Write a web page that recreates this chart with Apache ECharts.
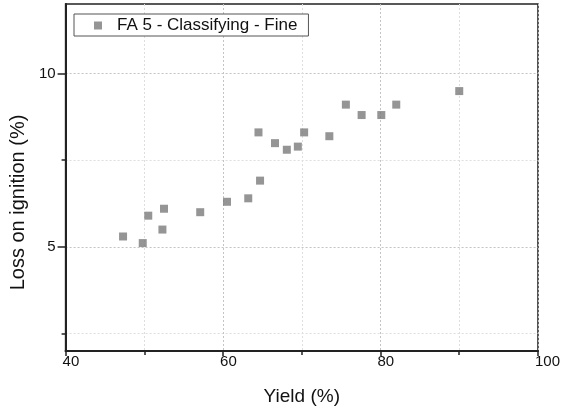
<!DOCTYPE html>
<html><head><meta charset="utf-8">
<script src="https://cdn.jsdelivr.net/npm/echarts@6/dist/echarts.min.js"></script>
<style>html,body{margin:0;padding:0;background:#fff}#c{width:563px;height:411px}</style>
</head><body><div id="c"></div>
<script>
const seriesName = 'FA 5 - Classifying - Fine';
const xName = 'Yield (%)';
const yName = 'Loss on ignition (%)';
const yieldPct = [47.3, 49.8, 50.5, 52.5, 52.3, 57.1, 60.5, 63.2, 64.7, 64.5, 66.6, 68.1, 69.5, 70.3, 73.5, 75.6, 77.6, 80.1, 82.0, 90.0];
const lossOnIgnition = [5.30, 5.11, 5.90, 6.10, 5.50, 6.00, 6.30, 6.40, 6.91, 8.30, 7.99, 7.80, 7.89, 8.30, 8.19, 9.10, 8.80, 8.80, 9.10, 9.49];
const xRange = [40, 100];
const xStep = 20;
const yRange = [2, 12];
const yMajorTicks = [5, 10];
const yMinorTicks = [2.5, 7.5];

const FONT = 'Liberation Sans, Arial, sans-serif';
const chart = echarts.init(document.getElementById('c'), null, {renderer: 'canvas'});
const points = yieldPct.map((x, i) => [x, lossOnIgnition[i]]);

chart.setOption({
  animation: false,
  backgroundColor: '#fff',
  textStyle: {fontFamily: FONT},
  grid: {left: 65, right: 25, top: 4, bottom: 59, show: true, borderColor: '#222', borderWidth: 1.5, backgroundColor: 'transparent'},
  legend: {
    data: [seriesName], left: 74, top: 14, icon: 'rect', itemWidth: 8, itemHeight: 8,
    borderColor: '#555', borderWidth: 1, borderRadius: 0, backgroundColor: '#fff',
    padding: [3, 11, 2, 20],
    textStyle: {fontSize: 17, color: '#111', fontFamily: FONT, padding: [0, 0, 0, 10]}
  },
  xAxis: {
    type: 'value', min: xRange[0], max: xRange[1], interval: xStep,
    name: xName, nameLocation: 'middle', nameGap: 36,
    nameTextStyle: {fontSize: 19, color: '#111', fontFamily: FONT},
    axisLine: {show: true, lineStyle: {color: '#222', width: 2}},
    axisTick: {show: true, length: 5, lineStyle: {color: '#222', width: 1.5}},
    minorTick: {show: true, splitNumber: 2, length: 4, lineStyle: {color: '#222', width: 1.5}},
    axisLabel: {fontSize: 15, color: '#111', align: 'left', margin: 3, padding: [0, 0, 0, -3], fontFamily: FONT},
    splitLine: {show: true, lineStyle: {color: '#c4c4c4', type: [2, 2], width: 1}},
    minorSplitLine: {show: true, lineStyle: {color: '#dedede', type: [2, 2], width: 1}}
  },
  yAxis: [{
    type: 'value', min: yRange[0], max: yRange[1], position: 'left',
    name: yName, nameLocation: 'middle', nameGap: 37,
    nameTextStyle: {fontSize: 20, color: '#111', fontFamily: FONT, padding: [0, 50, 0, 0]},
    axisLine: {show: true, lineStyle: {color: '#222', width: 2}},
    axisTick: {show: true, length: 8, customValues: yMajorTicks, lineStyle: {color: '#222', width: 1.5}},
    axisLabel: {fontSize: 15, color: '#111', margin: 10, customValues: yMajorTicks, fontFamily: FONT},
    splitLine: {show: true, lineStyle: {color: '#c4c4c4', type: [2, 2], width: 1}}
  }, {
    type: 'value', min: yRange[0], max: yRange[1], position: 'left',
    axisLine: {show: false},
    axisTick: {show: true, length: 4, customValues: yMinorTicks, lineStyle: {color: '#222', width: 1.5}},
    axisLabel: {show: false, customValues: yMinorTicks},
    splitLine: {show: true, lineStyle: {color: '#dedede', type: [2, 2], width: 1}}
  }],
  series: [{
    name: seriesName, type: 'scatter', data: points, yAxisIndex: 0,
    symbol: 'rect', symbolSize: 8,
    itemStyle: {color: '#7a7a7a'}
  }]
});
</script></body></html>
